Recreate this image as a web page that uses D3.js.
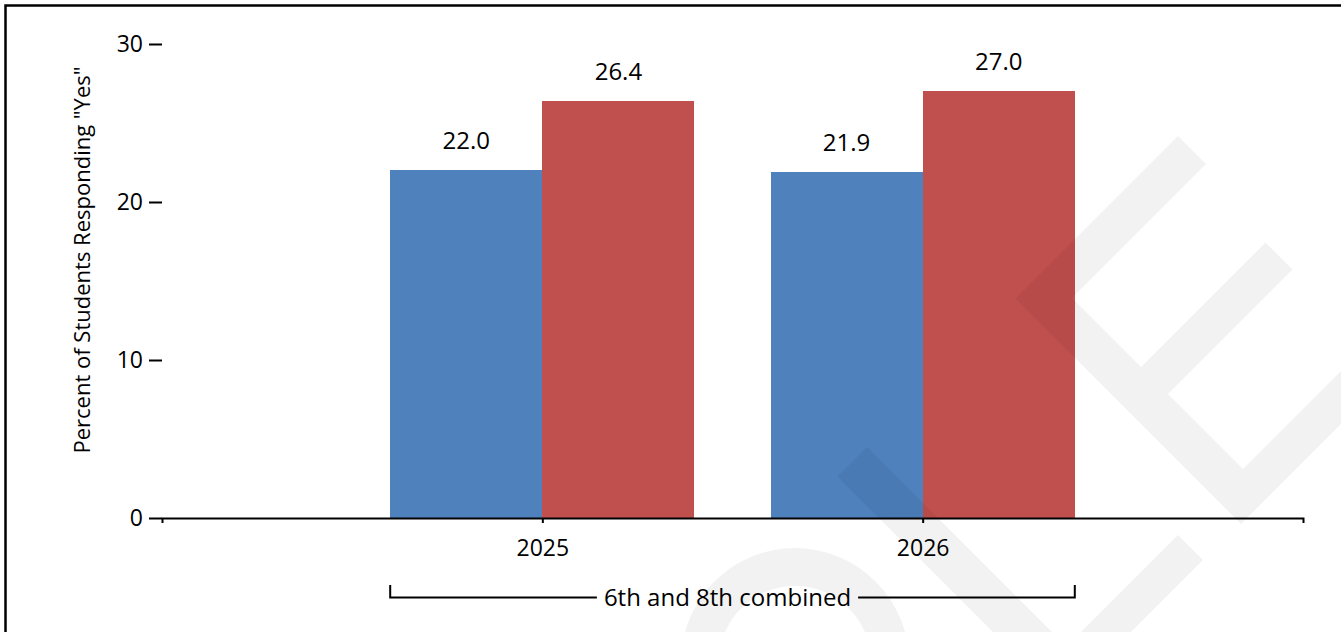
<!DOCTYPE html>
<html>
<head>
<meta charset="utf-8">
<script src="https://cdn.jsdelivr.net/npm/d3@7"></script>
<style>
  body { margin: 0; background: #fff; }
  svg { display: block; font-family: "Segoe UI", "Open Sans", sans-serif; }
</style>
</head>
<body>
<svg id="chart" width="1341" height="632"></svg>
<script>
// ---- data ----
const years = ["2025", "2026"];
const groupA = [22.0, 21.9];   // blue bars
const groupB = [26.4, 27.0];   // red bars
const yTicks = [0, 10, 20, 30];
const groupLabel = "6th and 8th combined";
const yTitle = 'Percent of Students Responding "Yes"';

// ---- layout ----
const W = 1341, H = 632;
const svg = d3.select("#chart");
const colors = ["#4f81bd", "#c0504d"];
const barUnits = 0.4;          // bar width in x-domain units

const x = d3.scaleLinear().domain([0, years.length + 1]).range([162, 1303]);
const y = d3.scaleLinear().domain([0, 30]).range([518, 44]);

// frame
svg.append("rect")
  .attr("x", 5.5).attr("y", 5.5)
  .attr("width", W + 10).attr("height", H + 10)
  .attr("fill", "#fff").attr("stroke", "#000").attr("stroke-width", 2.5);

// bars
const rows = [];
years.forEach((yr, i) => {
  [groupA[i], groupB[i]].forEach((v, j) => {
    rows.push({ i, j, v, x0: (i + 1) - barUnits + barUnits * j });
  });
});

svg.append("g").attr("shape-rendering", "crispEdges")
  .selectAll("rect").data(rows).join("rect")
  .attr("x", d => x(d.x0))
  .attr("width", d => x(d.x0 + barUnits) - x(d.x0))
  .attr("y", d => y(d.v))
  .attr("height", d => y(0) - y(d.v))
  .attr("fill", d => colors[d.j]);

// value labels
svg.append("g").selectAll("text").data(rows).join("text")
  .attr("x", d => x(d.x0 + barUnits / 2))
  .attr("y", d => y(d.v) - 21)
  .attr("text-anchor", "middle")
  .attr("font-size", 24)
  .attr("fill", "#000")
  .text(d => d3.format(".1f")(d.v));

// y axis: ticks only, no spine
const yAxis = svg.append("g")
  .attr("transform", `translate(${x(0)},0)`)
  .call(d3.axisLeft(y).tickValues(yTicks).tickSize(13).tickPadding(6));
yAxis.select(".domain").remove();
yAxis.attr("font-family", null).attr("font-size", 23);
yAxis.selectAll("line").attr("stroke", "#000").attr("stroke-width", 2);
yAxis.selectAll("text").attr("fill", "#000");

// x axis
const xAxis = svg.append("g")
  .attr("transform", `translate(0,${y(0)})`)
  .call(d3.axisBottom(x).tickValues(years.map((_, i) => i + 1))
    .tickFormat(v => years[v - 1]).tickSize(5).tickSizeOuter(5).tickPadding(17));
xAxis.attr("font-family", null).attr("font-size", 23);
xAxis.selectAll("line, .domain").attr("stroke", "#000").attr("stroke-width", 2);
xAxis.selectAll("text").attr("fill", "#000");

// y title
svg.append("text")
  .attr("transform", "translate(90,260) rotate(-90)")
  .attr("text-anchor", "middle")
  .attr("font-size", 22)
  .attr("fill", "#000")
  .text(yTitle);

// group bracket under the categories
const bx0 = x(1 - barUnits), bx1 = x(years.length + barUnits);
const by = 597.5, legTop = 585;
const cx = (bx0 + bx1) / 2 - 5, gap = 7;
const gLabel = svg.append("text")
  .attr("x", cx).attr("y", by + 8)
  .attr("text-anchor", "middle")
  .attr("font-size", 24)
  .attr("fill", "#000")
  .text(groupLabel);
const tw = gLabel.node().getComputedTextLength();
const bracket = d3.path();
bracket.moveTo(bx0, legTop); bracket.lineTo(bx0, by); bracket.lineTo(cx - tw / 2 - gap, by);
bracket.moveTo(cx + tw / 2 + gap, by); bracket.lineTo(bx1, by); bracket.lineTo(bx1, legTop);
svg.append("path").attr("d", bracket.toString())
  .attr("fill", "none").attr("stroke", "#000").attr("stroke-width", 2);

// faint logo strokes laid over the plot (diagonal grid coords: s = x - y, d = x + y)
const toXY = ([s, d]) => [(s + d) / 2, (d - s) / 2];
const logoE = [[717,1314],[1042,1314],[1042,1370],[774,1370],[774,1508],[1023,1508],
               [1023,1562],[774,1562],[774,1712],[1080,1712],[1080,1765],[717,1765]];
const logoV = [[361,1314],[420,1314],[420,1713],[643,1713],[643,1763],[361,1763]];
const logo = svg.append("g").attr("fill", "#000").attr("fill-opacity", 0.05);
[logoE, logoV].forEach(poly => {
  logo.append("path").attr("d", d3.line()(poly.map(toXY)) + "Z");
});
logo.append("path")
  .attr("transform", "translate(795,662)")
  .attr("d", d3.arc()({ innerRadius: 76, outerRadius: 114, startAngle: 0, endAngle: 2 * Math.PI }));
</script>
</body>
</html>
